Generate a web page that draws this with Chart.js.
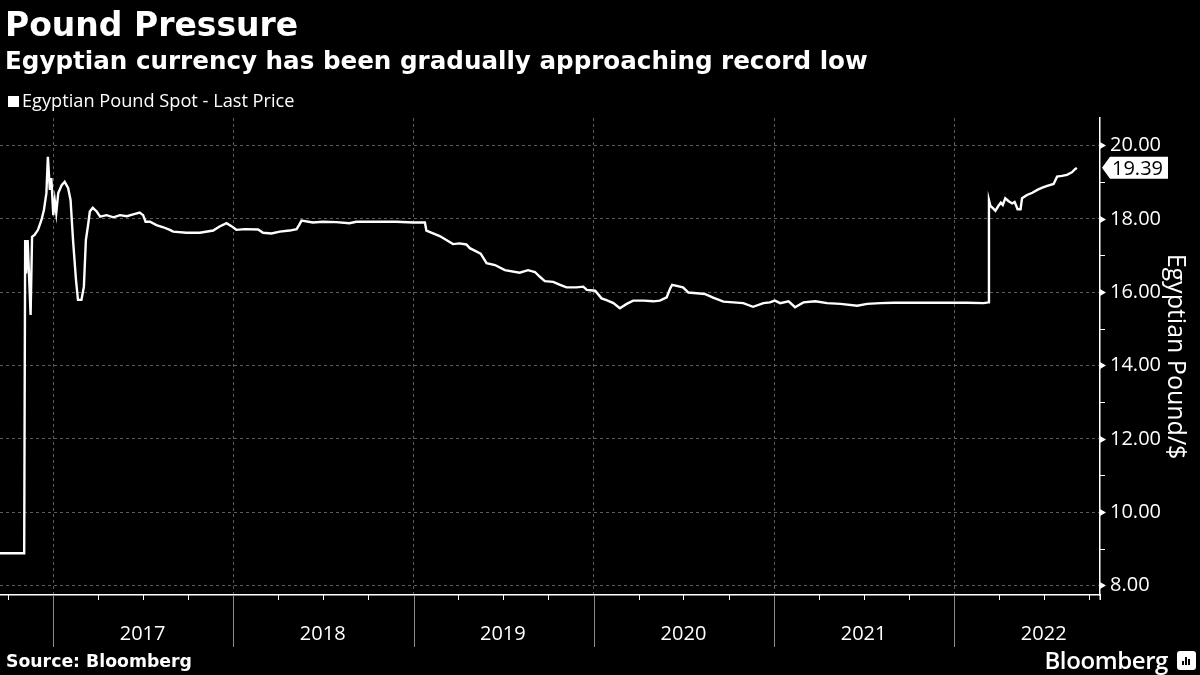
<!DOCTYPE html>
<html>
<head>
<meta charset="utf-8">
<script src="https://cdn.jsdelivr.net/npm/chart.js@4.4.1/dist/chart.umd.min.js"></script>
<style>
html,body{margin:0;padding:0;background:#000;}
#wrap{position:relative;width:1200px;height:675px;background:#000;overflow:hidden;}
#c{position:absolute;left:0;top:0;}
.t{position:absolute;color:#fff;white-space:nowrap;}
#title{left:5px;top:8px;font:bold 33px/33px "DejaVu Sans";}
#subtitle{left:5px;top:49px;font:bold 24.6px/24px "DejaVu Sans";}
#legend{left:8px;top:91px;font:18.2px/18px "Open Sans";}
#legend span.sq{display:inline-block;width:11px;height:11px;background:#fff;margin-right:3px;vertical-align:0px;}
#source{left:6px;top:653px;font:bold 17.3px/17px "DejaVu Sans";}
#brand{right:32px;top:649px;font:600 24px/22px "Open Sans";letter-spacing:-0.4px;}
#icon{position:absolute;left:1177px;top:651px;width:19px;height:19px;background:#fff;border-radius:3px;}
#icon i{position:absolute;bottom:5px;width:2px;background:#000;}
</style>
</head>
<body>
<div id="wrap">
  <canvas id="c" width="1200" height="675"></canvas>
  <div class="t" id="title">Pound Pressure</div>
  <div class="t" id="subtitle">Egyptian currency has been gradually approaching record low</div>
  <div class="t" id="legend"><span class="sq"></span>Egyptian Pound Spot - Last Price</div>
  <div class="t" id="source">Source: Bloomberg</div>
  <div class="t" id="brand">Bloomberg</div>
  <div id="icon"><i style="left:5px;height:4px"></i><i style="left:8px;height:8px"></i><i style="left:11px;height:6px"></i></div>
</div>
<script>
// ---- data ----
const seriesName = 'Egyptian Pound Spot - Last Price';
const dates = [
 '2016-09-15','2016-11-02','2016-11-03','2016-11-05','2016-11-07','2016-11-10','2016-11-16','2016-11-19','2016-11-24',
 '2016-12-01','2016-12-08','2016-12-13','2016-12-18','2016-12-21','2016-12-25','2016-12-28',
 '2017-01-01','2017-01-04','2017-01-07','2017-01-11','2017-01-18','2017-01-24','2017-01-31',
 '2017-02-05','2017-02-10','2017-02-16','2017-02-20','2017-02-27','2017-03-04','2017-03-08','2017-03-13','2017-03-16',
 '2017-03-22','2017-03-30','2017-04-06','2017-04-19','2017-05-03','2017-05-16','2017-05-30','2017-06-12','2017-06-25',
 '2017-07-02','2017-07-07','2017-07-16','2017-07-29','2017-08-12','2017-08-25','2017-09-01','2017-09-28','2017-10-25',
 '2017-11-21','2017-12-04','2017-12-18','2017-12-28',
 '2018-01-07','2018-01-24','2018-02-20','2018-03-02','2018-03-19','2018-04-05','2018-04-25','2018-05-09','2018-05-14',
 '2018-05-19','2018-06-11','2018-07-01','2018-07-28','2018-08-24','2018-09-07','2018-10-17','2018-11-27','2018-12-31',
 '2019-01-24','2019-01-27','2019-02-23','2019-03-22','2019-04-04','2019-04-18','2019-04-25','2019-05-17','2019-05-29',
 '2019-06-15','2019-07-05','2019-08-04','2019-08-21','2019-09-04','2019-09-14','2019-09-24','2019-10-11','2019-10-25',
 '2019-11-07','2019-11-27','2019-12-11','2019-12-18',
 '2020-01-04','2020-01-17','2020-01-27','2020-02-10','2020-02-23','2020-03-08','2020-03-21','2020-04-11','2020-05-01',
 '2020-05-14','2020-05-28','2020-06-04','2020-06-08','2020-06-30','2020-07-11','2020-07-28','2020-08-13','2020-08-30',
 '2020-09-20','2020-10-10','2020-10-30','2020-11-19','2020-12-10','2020-12-23',
 '2021-01-02','2021-01-13','2021-01-30','2021-02-12','2021-03-01','2021-03-25','2021-04-18','2021-05-15','2021-06-18',
 '2021-07-08','2021-08-04','2021-08-31','2021-09-27','2021-11-13','2021-12-30',
 '2022-01-26','2022-03-01','2022-03-11','2022-03-12','2022-03-15','2022-03-20','2022-03-25','2022-03-31','2022-04-05',
 '2022-04-09','2022-04-14','2022-04-21','2022-04-28','2022-05-03','2022-05-07','2022-05-09','2022-05-15','2022-05-18',
 '2022-05-28','2022-06-08','2022-06-18','2022-06-28','2022-07-08','2022-07-21','2022-07-28','2022-08-07','2022-08-17',
 '2022-08-27','2022-09-03','2022-09-06'
];
const values = [
 8.88,8.88,8.88,17.42,16.51,17.42,15.38,17.51,17.56,
 17.70,17.97,18.24,18.70,19.69,18.79,19.11,
 18.10,18.50,18.16,18.70,18.92,19.01,18.84,
 18.51,17.42,16.33,15.79,15.79,16.15,17.42,17.88,18.20,
 18.30,18.20,18.06,18.10,18.04,18.10,18.07,18.12,18.17,
 18.10,17.92,17.92,17.83,17.77,17.70,17.65,17.62,17.62,
 17.68,17.79,17.88,17.80,
 17.70,17.72,17.71,17.62,17.60,17.65,17.68,17.72,17.83,
 17.95,17.90,17.92,17.91,17.88,17.92,17.92,17.92,17.90,
 17.90,17.68,17.53,17.31,17.33,17.30,17.20,17.05,16.79,
 16.74,16.60,16.53,16.60,16.55,16.42,16.30,16.28,16.20,
 16.13,16.13,16.15,16.06,
 16.04,15.83,15.78,15.70,15.56,15.68,15.77,15.77,15.75,
 15.77,15.86,16.10,16.20,16.13,15.99,15.97,15.95,15.85,
 15.74,15.72,15.70,15.60,15.70,15.72,
 15.77,15.70,15.75,15.59,15.72,15.75,15.70,15.68,15.63,
 15.68,15.70,15.71,15.71,15.71,15.71,
 15.71,15.70,15.72,18.51,18.35,18.29,18.22,18.35,18.44,
 18.38,18.56,18.48,18.42,18.46,18.33,18.26,18.26,18.56,
 18.65,18.71,18.79,18.85,18.90,18.95,19.15,19.17,19.20,
 19.27,19.36,19.39
];
const yearLabels = ['2017','2018','2019','2020','2021','2022'];
const yTickValues = [8,9,10,11,12,13,14,15,16,17,18,19,20];
const yAxisTitle = 'Egyptian Pound/$';
const xStart = '2016-09-15', xEnd = '2022-10-23';
const yMin = 7.74, yMax = 20.75;

// ---- helpers ----
const DAY = 86400000, BASE = Date.UTC(2017,0,1);
function dayIndex(s){const [y,m,d]=s.split('-').map(Number);return (Date.UTC(y,m-1,d)-BASE)/DAY;}
const points = dates.map((d,i)=>({x:dayIndex(d), y:values[i]}));

// quarterly ticks, January = year boundary, July = label position
const janSet = new Set(), julMap = new Map(), qTicks = [];
for (let y=2016;y<=2022;y++){
  for (const m of [1,4,7,10]){
    const v = dayIndex(y+'-'+String(m).padStart(2,'0')+'-01');
    if (v < dayIndex(xStart) || v > dayIndex(xEnd)) continue;
    qTicks.push(v);
    if (m===1) janSet.add(v);
    if (m===7 && yearLabels.includes(String(y))) julMap.set(v,String(y));
  }
}

const TICK_FONT = {family:'Open Sans', size:20};
const GRID = '#5c5c5c';

const decor = {
  id:'decor',
  afterDraw(chart){
    const ctx = chart.ctx, xs = chart.scales.x, ys = chart.scales.y, ca = chart.chartArea;
    ctx.save();
    ctx.lineWidth = 1;
    // x axis ticks
    qTicks.forEach(v=>{
      const px = Math.round(xs.getPixelForValue(v))+0.5;
      ctx.beginPath();
      if (janSet.has(v)){ ctx.strokeStyle='#8a8a8a'; ctx.moveTo(px,ca.bottom); ctx.lineTo(px,ca.bottom+52); }
      else { ctx.strokeStyle='#ffffff'; ctx.moveTo(px,ca.bottom); ctx.lineTo(px,ca.bottom+5); }
      ctx.stroke();
    });
    // y axis ticks
    ctx.fillStyle='#fff'; ctx.strokeStyle='#fff';
    yTickValues.forEach(v=>{
      const py = Math.round(ys.getPixelForValue(v))+0.5;
      if (v%2===0){
        ctx.beginPath(); ctx.moveTo(ca.right,py-3.5); ctx.lineTo(ca.right+6,py); ctx.lineTo(ca.right,py+3.5); ctx.closePath(); ctx.fill();
      } else {
        ctx.beginPath(); ctx.moveTo(ca.right,py); ctx.lineTo(ca.right+5,py); ctx.stroke();
      }
    });
    // y axis line slightly extended below the x axis
    ctx.lineWidth = 1.5;
    ctx.beginPath(); ctx.moveTo(ca.right+0.25, ca.bottom); ctx.lineTo(ca.right+0.25, ca.bottom+5); ctx.stroke();
    // last value tag
    const last = values[values.length-1];
    const ty = ys.getPixelForValue(last);
    const x0 = ca.right+2, x1 = ca.right+10, x2 = ca.right+68, h = 11;
    ctx.fillStyle='#fff';
    ctx.beginPath(); ctx.moveTo(x0,ty); ctx.lineTo(x1,ty-h); ctx.lineTo(x2,ty-h); ctx.lineTo(x2,ty+h); ctx.lineTo(x1,ty+h); ctx.closePath(); ctx.fill();
    ctx.fillStyle='#000'; ctx.font='20px "Open Sans"'; ctx.textBaseline='middle'; ctx.textAlign='left';
    ctx.fillText(last.toFixed(2), x1+2, ty+1);
    ctx.restore();
  }
};

new Chart(document.getElementById('c'), {
  type:'line',
  data:{datasets:[{label:seriesName,data:points,borderColor:'#ffffff',borderWidth:2.4,pointRadius:0,tension:0,fill:false}]},
  options:{
    responsive:false, animation:false, devicePixelRatio:1,
    layout:{padding:{top:118,left:0,right:0,bottom:0}},
    plugins:{legend:{display:false},tooltip:{enabled:false},title:{display:false}},
    scales:{
      x:{
        type:'linear', min:dayIndex(xStart), max:dayIndex(xEnd),
        afterBuildTicks(s){ s.ticks = qTicks.map(v=>({value:v})); },
        afterFit(s){ s.height = 80; s.paddingLeft = 0; s.paddingRight = 0; },
        grid:{color:(c)=> (c.tick && janSet.has(c.tick.value)) ? GRID : 'rgba(0,0,0,0)', drawTicks:false, lineWidth:1},
        border:{display:true,color:'#ffffff',width:1.5,dash:[3,3]},
        ticks:{autoSkip:false,maxRotation:0,minRotation:0,padding:27,color:'#ffffff',font:TICK_FONT,
          callback:(v)=> julMap.get(v) || ''}
      },
      y:{
        position:'right', min:yMin, max:yMax,
        afterBuildTicks(s){ s.ticks = yTickValues.map(v=>({value:v})); },
        afterFit(s){ s.width = 100; s.paddingTop = 0; s.paddingBottom = 0; },
        grid:{color:(c)=> (c.tick && c.tick.value%2===0) ? GRID : 'rgba(0,0,0,0)', drawTicks:false, lineWidth:1},
        border:{display:true,color:'#ffffff',width:1.5,dash:[3,3]},
        ticks:{padding:10,color:'#ffffff',font:TICK_FONT,callback:(v)=> v%2===0 ? v.toFixed(2) : ''},
        title:{display:true,text:yAxisTitle,color:'#ffffff',font:{family:'Open Sans',size:25},padding:{top:10,bottom:0}}
      }
    }
  },
  plugins:[decor]
});
</script>
</body>
</html>
